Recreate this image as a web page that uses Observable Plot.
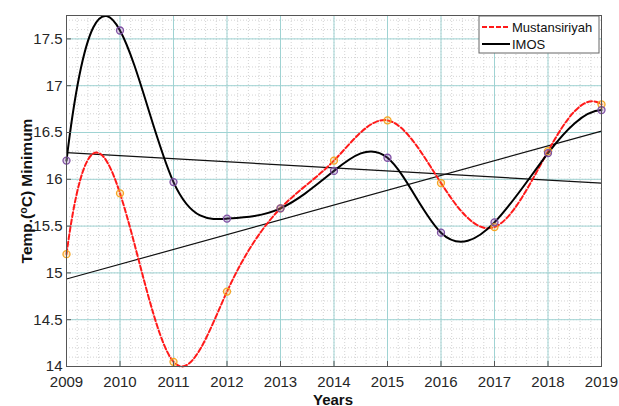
<!DOCTYPE html>
<html>
<head>
<meta charset="utf-8">
<script src="https://cdn.jsdelivr.net/npm/d3@7"></script>
<script src="https://cdn.jsdelivr.net/npm/@observablehq/plot@0.6"></script>
<style>
  html, body { margin: 0; padding: 0; background: #fff; }
  #chart { width: 619px; height: 406px; overflow: hidden; }
  svg { font-family: "Liberation Sans", Arial, sans-serif; }
</style>
</head>
<body>
<div id="chart"></div>
<script>
const years = [2009, 2010, 2011, 2012, 2013, 2014, 2015, 2016, 2017, 2018, 2019];
const mustansiriyah = [15.2, 15.85, 14.05, 14.8, 15.69, 16.2, 16.63, 15.96, 15.49, 16.3, 16.8];
const imos = [16.2, 17.59, 15.97, 15.58, 15.69, 16.09, 16.23, 15.43, 15.54, 16.28, 16.74];
const yTicks = [14, 14.5, 15, 15.5, 16, 16.5, 17, 17.5];
const xTicks = years;
const seriesNames = ["Mustansiriyah", "IMOS"];

const dataM = years.map((y, i) => ({year: y, value: mustansiriyah[i]}));
const dataI = years.map((y, i) => ({year: y, value: imos[i]}));

// Not-a-knot cubic spline curve (like MATLAB's spline)
function notAKnot(context) {
  let xs, ys;
  return {
    areaStart() {}, areaEnd() {},
    lineStart() { xs = []; ys = []; },
    point(x, y) { xs.push(+x); ys.push(+y); },
    lineEnd() {
      const n = xs.length;
      if (!n) return;
      context.moveTo(xs[0], ys[0]);
      if (n < 4) { for (let i = 1; i < n; i++) context.lineTo(xs[i], ys[i]); return; }
      const h = [];
      for (let i = 0; i < n - 1; i++) h.push(xs[i + 1] - xs[i]);
      const A = Array.from({length: n}, () => new Array(n).fill(0));
      const b = new Array(n).fill(0);
      A[0][0] = -h[1]; A[0][1] = h[0] + h[1]; A[0][2] = -h[0];
      for (let i = 1; i < n - 1; i++) {
        A[i][i - 1] = h[i - 1];
        A[i][i] = 2 * (h[i - 1] + h[i]);
        A[i][i + 1] = h[i];
        b[i] = 6 * ((ys[i + 1] - ys[i]) / h[i] - (ys[i] - ys[i - 1]) / h[i - 1]);
      }
      A[n - 1][n - 3] = -h[n - 2]; A[n - 1][n - 2] = h[n - 3] + h[n - 2]; A[n - 1][n - 1] = -h[n - 3];
      for (let c = 0; c < n; c++) {
        let p = c;
        for (let r = c + 1; r < n; r++) if (Math.abs(A[r][c]) > Math.abs(A[p][c])) p = r;
        [A[c], A[p]] = [A[p], A[c]]; [b[c], b[p]] = [b[p], b[c]];
        for (let r = c + 1; r < n; r++) {
          const f = A[r][c] / A[c][c];
          if (!f) continue;
          for (let k = c; k < n; k++) A[r][k] -= f * A[c][k];
          b[r] -= f * b[c];
        }
      }
      const M = new Array(n).fill(0);
      for (let r = n - 1; r >= 0; r--) {
        let s = b[r];
        for (let k = r + 1; k < n; k++) s -= A[r][k] * M[k];
        M[r] = s / A[r][r];
      }
      const m = new Array(n);
      for (let i = 0; i < n - 1; i++) m[i] = (ys[i + 1] - ys[i]) / h[i] - h[i] * (2 * M[i] + M[i + 1]) / 6;
      m[n - 1] = (ys[n - 1] - ys[n - 2]) / h[n - 2] + h[n - 2] * (M[n - 2] + 2 * M[n - 1]) / 6;
      for (let i = 0; i < n - 1; i++) {
        const hh = h[i];
        context.bezierCurveTo(xs[i] + hh / 3, ys[i] + m[i] * hh / 3,
                              xs[i + 1] - hh / 3, ys[i + 1] - m[i + 1] * hh / 3,
                              xs[i + 1], ys[i + 1]);
      }
    }
  };
}

const minorX = d3.range(2009, 2019.001, 0.2);
const minorY = d3.range(14, 17.75, 0.1);

const plot = Plot.plot({
  width: 619,
  height: 406,
  marginLeft: 66,
  marginRight: 18,
  marginTop: 15,
  marginBottom: 40,
  style: {fontFamily: '"Liberation Sans", Arial, sans-serif', fontSize: "15px", color: "#262626", background: "#fff"},
  x: {domain: [2009, 2019]},
  y: {domain: [14, 17.75]},
  marks: [
    Plot.ruleX(minorX, {stroke: "#c8c8c8", strokeDasharray: "1,2", strokeWidth: 0.8}),
    Plot.ruleY(minorY, {stroke: "#c8c8c8", strokeDasharray: "1,2", strokeWidth: 0.8}),
    Plot.ruleX(xTicks, {stroke: "#9fd3d3", strokeWidth: 1}),
    Plot.ruleY(yTicks, {stroke: "#9fd3d3", strokeWidth: 1}),
    Plot.linearRegressionY(dataM, {x: "year", y: "value", stroke: "#111", strokeWidth: 1.2, ci: 0}),
    Plot.linearRegressionY(dataI, {x: "year", y: "value", stroke: "#111", strokeWidth: 1.2, ci: 0}),
    Plot.line(dataM, {x: "year", y: "value", stroke: "#ff1a1a", strokeWidth: 2, strokeDasharray: "5,2.5", curve: notAKnot}),
    Plot.line(dataI, {x: "year", y: "value", stroke: "#000", strokeWidth: 2, curve: notAKnot}),
    Plot.dot(dataM, {x: "year", y: "value", r: 3.5, stroke: "#f5a623", strokeWidth: 1.3, fill: "#f5a623", fillOpacity: 0.25}),
    Plot.dot(dataI, {x: "year", y: "value", r: 3.5, stroke: "#7e4fa3", strokeWidth: 1.3, fill: "#7e4fa3", fillOpacity: 0.25}),
    Plot.frame({stroke: "#555", strokeWidth: 1}),
    Plot.axisX(xTicks, {tickSize: -5, tickPadding: 15, tickFormat: d => String(d), label: null, stroke: "#555", fill: "#262626", fontSize: 15}),
    Plot.axisY(yTicks, {tickSize: -5, tickPadding: 9, tickFormat: d => String(d), label: null, stroke: "#555", fill: "#262626", fontSize: 15})
  ]
});

document.getElementById("chart").appendChild(plot);

const svg = d3.select(plot);
const yl = svg.append("text")
  .attr("transform", "translate(32,191) rotate(-90)")
  .attr("text-anchor", "middle")
  .attr("font-weight", "bold")
  .attr("font-size", 15.5)
  .attr("fill", "#111");
yl.append("tspan").text("Temp.(");
yl.append("tspan").attr("font-size", 10.5).attr("dy", -5.5).text("o");
yl.append("tspan").attr("dy", 5.5).text("C) Minimum");

svg.append("text")
  .attr("x", 333).attr("y", 405)
  .attr("text-anchor", "middle")
  .attr("font-weight", "bold")
  .attr("font-size", 15)
  .attr("fill", "#111")
  .text("Years");

const lg = svg.append("g").attr("transform", "translate(479,16)");
lg.append("rect").attr("x", 0).attr("y", 0).attr("width", 120).attr("height", 37)
  .attr("fill", "#fff").attr("stroke", "#666").attr("stroke-width", 1);
const items = [
  {name: seriesNames[0], stroke: "#ff1a1a", dash: "5,2"},
  {name: seriesNames[1], stroke: "#000", dash: null}
];
items.forEach((it, i) => {
  const y = 11 + i * 17;
  lg.append("line").attr("x1", 3).attr("x2", 31).attr("y1", y).attr("y2", y)
    .attr("stroke", it.stroke).attr("stroke-width", 2)
    .attr("stroke-dasharray", it.dash);
  lg.append("text").attr("x", 33).attr("y", y + 4.5)
    .attr("text-anchor", "start")
    .attr("font-size", 13).attr("fill", "#111").text(it.name);
});
</script>
</body>
</html>
